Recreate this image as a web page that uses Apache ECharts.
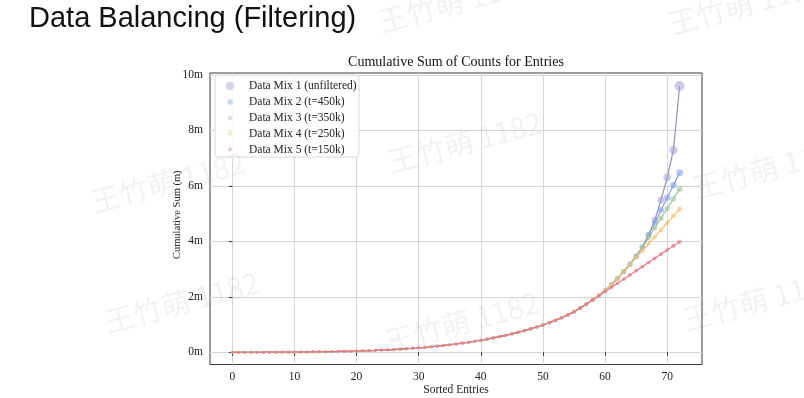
<!DOCTYPE html>
<html>
<head>
<meta charset="utf-8">
<script src="https://cdn.jsdelivr.net/npm/echarts@6/dist/echarts.min.js"></script>
<style>html,body{margin:0;padding:0;background:#fff}#c{width:804px;height:398px}</style>
</head>
<body>
<div id="c"></div>
<script>
// ---- data (cumulative sum, millions) ----
const seriesNames = [
  'Data Mix 1 (unfiltered)',
  'Data Mix 2 (t=450k)',
  'Data Mix 3 (t=350k)',
  'Data Mix 4 (t=250k)',
  'Data Mix 5 (t=150k)'
];
// shared part, entries 0..58
const sharedCum = [
  0.0003, 0.0007, 0.0012, 0.0018, 0.0025, 0.0033, 0.0042, 0.0052, 0.0064, 0.0078,
  0.0094, 0.0113, 0.0135, 0.0160, 0.0189, 0.0222, 0.0260, 0.0303, 0.0352, 0.0407,
  0.0469, 0.0539, 0.0617, 0.0704, 0.0800, 0.0906, 0.1023, 0.1152, 0.1294, 0.1450,
  0.1620, 0.1806, 0.2008, 0.2228, 0.2466, 0.2724, 0.3002, 0.3302, 0.3625, 0.3972,
  0.4344, 0.4744, 0.5174, 0.5634, 0.6124, 0.6644, 0.7204, 0.7804, 0.8444, 0.9124,
  0.9854, 1.0634, 1.1494, 1.2444, 1.3494, 1.4654, 1.5954, 1.7374, 1.8874
];
// entries 59..72
const mix1Tail = [2.047, 2.232, 2.437, 2.665, 2.913, 3.175, 3.465, 3.785, 4.225, 4.775, 5.485, 6.310, 7.290, 9.600];
const mix2Tail = [2.047, 2.232, 2.437, 2.665, 2.913, 3.175, 3.465, 3.785, 4.225, 4.675, 5.125, 5.575, 6.025, 6.475];
const mix3Tail = [2.047, 2.232, 2.437, 2.665, 2.913, 3.175, 3.465, 3.785, 4.135, 4.485, 4.835, 5.185, 5.535, 5.885];
const mix4Tail = [2.047, 2.232, 2.437, 2.665, 2.913, 3.163, 3.413, 3.663, 3.913, 4.163, 4.413, 4.663, 4.913, 5.163];
const mix5Tail = [2.037, 2.187, 2.337, 2.487, 2.637, 2.787, 2.937, 3.087, 3.237, 3.387, 3.537, 3.687, 3.837, 3.987];

const xTicks = [0, 10, 20, 30, 40, 50, 60, 70];
const yTicks = [0, 2, 4, 6, 8, 10];
const yTickLabels = ['0m', '2m', '4m', '6m', '8m', '10m'];

const tails = [mix1Tail, mix2Tail, mix3Tail, mix4Tail, mix5Tail];
const seriesData = tails.map(t => sharedCum.concat(t).map((v, i) => [i, v]));

// ---- styles ----
const SERIF = '"Liberation Serif","DejaVu Serif",serif';
const markerColors = ['#a9a6d6', '#8aa4ea', '#a3c6a0', '#f2c47a', '#e8788a'];
const lineColors   = ['#8e8bab', '#7f98e2', '#97bd93', '#eebd6c', '#e3707f'];
const sizeK        = [0.72, 0.6, 0.5, 0.4, 0.35];
const legendColors = ['#bab8d8', '#aab9e8', '#c6cfc2', '#e0e3a6', '#caa9b3'];
const legendSizes  = [8.5, 5.5, 5, 4.5, 4];
const legendRowY   = [86, 102, 118, 133.5, 149.5];
const legendIconX  = 230;
const legendTextX  = 249;

const watermarks = [
  [465, 142], [168, 182], [462, 322], [182, 302], [770, 168], [760, 300], [455, 2], [745, 4]
];

const chart = echarts.init(document.getElementById('c'), null, {renderer: 'canvas'});

const option = {
  animation: false,
  backgroundColor: '#ffffff',
  grid: {
    left: 210, top: 73, width: 492, height: 291.5,
    outerBoundsMode: 'none', containLabel: false,
    show: true, borderColor: '#3a3a3a', borderWidth: 1, backgroundColor: '#ffffff'
  },
  xAxis: {
    type: 'value', min: -3.6, max: 75.6,
    axisLine: {show: false},
    axisTick: {show: true, inside: false, length: 3.5, customValues: xTicks, lineStyle: {color: '#333'}},
    axisLabel: {customValues: xTicks, margin: 6, color: '#222', fontFamily: SERIF, fontSize: 11.5},
    splitLine: {show: true, lineStyle: {color: '#d6d6d6', width: 1}},
    name: 'Sorted Entries', nameLocation: 'middle', nameGap: 19, nameMoveOverlap: false,
    nameTextStyle: {color: '#222', fontFamily: SERIF, fontSize: 11.5}
  },
  yAxis: {
    type: 'value', min: -0.44, max: 10.07,
    axisLine: {show: false},
    axisTick: {show: true, inside: false, length: 3.5, customValues: yTicks, lineStyle: {color: '#333'}},
    axisLabel: {
      customValues: yTicks, margin: 7, color: '#222', fontFamily: SERIF, fontSize: 11.5,
      formatter: v => yTickLabels[yTicks.indexOf(Math.round(v))]
    },
    splitLine: {show: true, lineStyle: {color: '#d6d6d6', width: 1}},
    name: 'Cumulative Sum (m)', nameLocation: 'middle', nameGap: 27, nameRotate: 90, nameMoveOverlap: false,
    nameTextStyle: {color: '#222', fontFamily: SERIF, fontSize: 10.5, padding: [0, 0, 0, 8]}
  },
  legend: seriesNames.map((n, i) => ({
    data: [{name: n, icon: 'circle', itemStyle: {color: legendColors[i], borderWidth: 0}}],
    left: legendIconX - legendSizes[i] / 2, top: legendRowY[i] - 7, padding: 0,
    itemWidth: legendSizes[i], itemHeight: legendSizes[i], selectedMode: false, z: 10,
    textStyle: {
      color: '#222', fontFamily: SERIF, fontSize: 11.5, lineHeight: 14,
      padding: [0, 0, 0, legendTextX - (legendIconX + legendSizes[i] / 2 + 5)]
    }
  })),
  graphic: [
    {type: 'rect', z: 5, shape: {x: 215, y: 75, width: 144, height: 82, r: 3},
     style: {fill: 'rgba(255,255,255,0.85)', stroke: '#d8d8d8', lineWidth: 1}},
    {type: 'text', x: 29, y: 19, z: 10,
     style: {text: 'Data Balancing (Filtering)', font: '29px "Liberation Sans", Arial, sans-serif', fill: '#111', textAlign: 'left', textVerticalAlign: 'middle'}},
    {type: 'text', x: 456, y: 62, z: 10,
     style: {text: 'Cumulative Sum of Counts for Entries', font: '14px ' + SERIF, fill: '#111', textAlign: 'center', textVerticalAlign: 'middle'}}
  ].concat(watermarks.map(p => ({
    type: 'text', x: p[0], y: p[1], rotation: 0.26, z: 100, silent: true,
    style: {text: '王竹萌 1182', font: '29px "Noto Sans CJK SC", sans-serif', fill: 'rgba(110,110,110,0.09)', textAlign: 'center', textVerticalAlign: 'middle'}
  }))),
  series: seriesNames.map((n, i) => ({
    type: 'line', name: n, data: seriesData[i],
    symbol: 'circle', showSymbol: true,
    symbolSize: v => 3 + sizeK[i] * v[1],
    itemStyle: {color: markerColors[i], opacity: 0.6, borderWidth: 0},
    lineStyle: {color: lineColors[i], width: 1.2, opacity: 0.95},
    z: 2 + i,
    emphasis: {disabled: true},
    silent: true
  }))
};
chart.setOption(option);
</script>
</body>
</html>
